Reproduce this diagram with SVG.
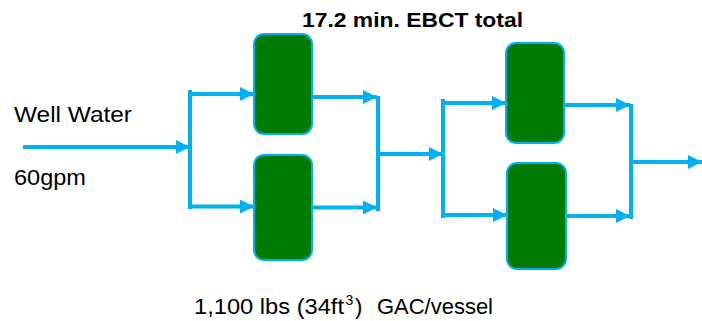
<svg xmlns="http://www.w3.org/2000/svg" width="702" height="321" viewBox="0 0 702 321">
<style>
.vessel{fill:#007a00;stroke:#00b0f0;stroke-width:2}
.pipe{fill:none;stroke:#00b0f0;stroke-width:4}
.arr{marker-end:url(#ah)}
.lbl{font-family:"Liberation Sans",Arial,sans-serif;fill:#000;white-space:pre}
</style>
<defs>
<marker id="ah" markerUnits="userSpaceOnUse" markerWidth="14" markerHeight="14" viewBox="0 0 12 12" refX="12" refY="6" orient="auto">
<path d="M0,0 L12,6 L0,12 Z" fill="#00b0f0"/>
</marker>
</defs>
<rect width="702" height="321" fill="#fff"/>
<g id="connectors">
<line class="pipe arr" x1="23" y1="147" x2="190" y2="147"/>
<line class="pipe" x1="190" y1="90" x2="190" y2="209"/>
<line class="pipe arr" x1="190" y1="94" x2="254" y2="94"/>
<line class="pipe arr" x1="190" y1="206.5" x2="254" y2="206.5"/>
<line class="pipe arr" x1="312" y1="97" x2="377" y2="97"/>
<line class="pipe arr" x1="312" y1="207.5" x2="377" y2="207.5"/>
<line class="pipe" x1="378" y1="96" x2="378" y2="211"/>
<line class="pipe arr" x1="378" y1="154" x2="443" y2="154"/>
<line class="pipe" x1="443" y1="99" x2="443" y2="218"/>
<line class="pipe arr" x1="443" y1="103" x2="506" y2="103"/>
<line class="pipe arr" x1="443" y1="215" x2="507" y2="215"/>
<line class="pipe arr" x1="564" y1="105" x2="630" y2="105"/>
<line class="pipe arr" x1="566" y1="216" x2="630" y2="216"/>
<line class="pipe" x1="631" y1="104" x2="631" y2="219"/>
<line class="pipe arr" x1="631" y1="162" x2="702" y2="162"/>
</g>
<g id="vessel1"><rect class="vessel" x="254" y="34" width="58" height="100" rx="10"/></g>
<g id="vessel2"><rect class="vessel" x="254" y="155" width="58" height="105" rx="10"/></g>
<g id="vessel3"><rect class="vessel" x="506" y="43" width="58" height="100" rx="10"/></g>
<g id="vessel4"><rect class="vessel" x="507" y="163" width="59" height="106" rx="10"/></g>
<g id="labels">
<text class="lbl" x="302" y="27" font-size="21" font-weight="bold" textLength="221" lengthAdjust="spacingAndGlyphs">17.2 min. EBCT total</text>
<text class="lbl" x="14" y="122" font-size="22" textLength="118" lengthAdjust="spacingAndGlyphs">Well Water</text>
<text class="lbl" x="14" y="185" font-size="22" textLength="72" lengthAdjust="spacingAndGlyphs">60gpm</text>
<text class="lbl" x="194" y="314" font-size="22" textLength="150" lengthAdjust="spacingAndGlyphs">1,100 lbs (34ft</text>
<text class="lbl" x="345.5" y="305" font-size="14">3</text>
<text class="lbl" x="355" y="314" font-size="22">)</text>
<text class="lbl" x="377" y="314" font-size="22" textLength="116" lengthAdjust="spacingAndGlyphs">GAC/vessel</text>
</g>
</svg>
